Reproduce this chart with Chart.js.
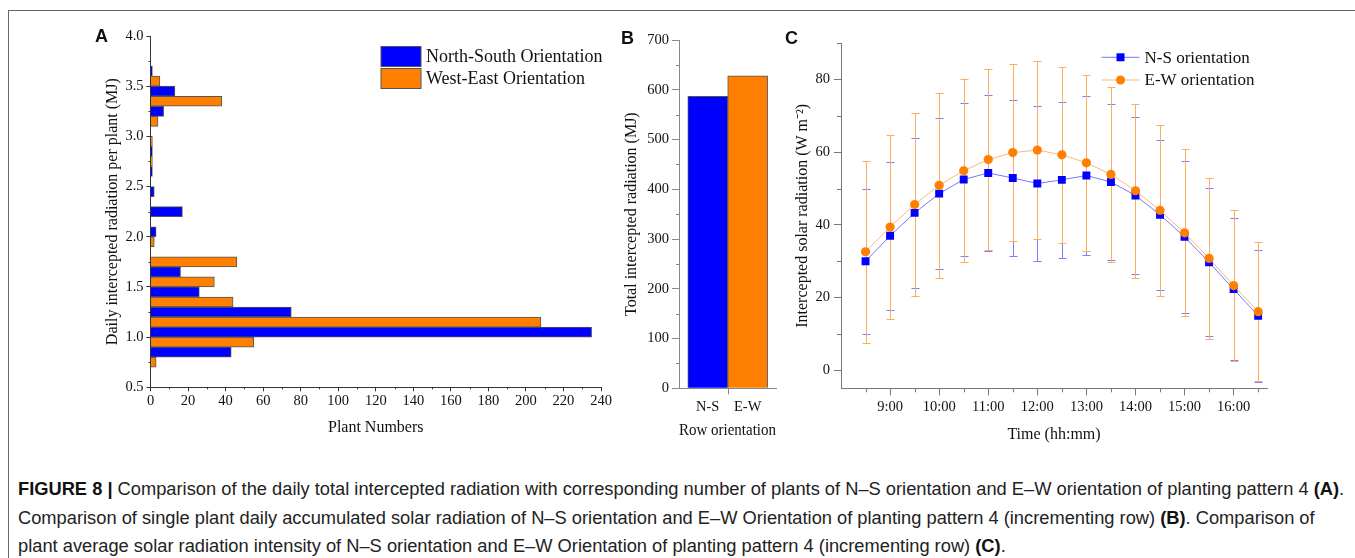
<!DOCTYPE html>
<html>
<head>
<meta charset="utf-8">
<title>Figure 8</title>
<script src="https://cdn.jsdelivr.net/npm/chart.js@4.4.0/dist/chart.umd.min.js"></script>
<style>
  body { margin: 0; background: #fff; width: 1355px; height: 558px; overflow: hidden; position: relative; }
  .frame { position: absolute; left: 8px; top: 10px; right: 0; height: 560px; border-top: 1px solid #666; border-left: 1px solid #666; }
  canvas { position: absolute; }
  .tag { position: absolute; font: bold 18px 'Liberation Sans', Arial, sans-serif; color: #111; line-height: 18px; }
  .caption { position: absolute; left: 18px; top: 475px; font: 18.3px 'Liberation Sans', Arial, sans-serif; line-height: 28.5px; color: #222; white-space: nowrap; }
  .caption b { color: #111; }
</style>
</head>
<body>
<div class="frame"></div>
<canvas id="chartA" width="560" height="430" style="left:60px;top:20px"></canvas>
<canvas id="chartB" width="200" height="430" style="left:600px;top:20px"></canvas>
<canvas id="chartC" width="560" height="430" style="left:780px;top:20px"></canvas>
<div class="tag" style="left:95px;top:27px">A</div>
<div class="tag" style="left:621px;top:29px">B</div>
<div class="tag" style="left:785px;top:29px">C</div>
<div class="caption">
<b>FIGURE 8 |</b> Comparison of the daily total intercepted radiation with corresponding number of plants of N–S orientation and E–W orientation of planting pattern 4 <b>(A)</b>.<br>
Comparison of single plant daily accumulated solar radiation of N–S orientation and E–W Orientation of planting pattern 4 (incrementing row) <b>(B)</b>. Comparison of<br>
plant average solar radiation intensity of N–S orientation and E–W Orientation of planting pattern 4 (incrementing row) <b>(C)</b>.
</div>
<script>
// --- A: number of plants per daily radiation class (MJ), two row orientations
const nsBins = [0.85, 1.05, 1.25, 1.45, 1.65, 1.85, 2.05, 2.25, 2.45, 2.65, 2.85, 3.05, 3.25, 3.45, 3.65];
const nsCounts = [43, 235, 75, 26, 16, 0, 3, 17, 2, 1, 1, 0, 7, 13, 1];
const ewBins = [0.75, 0.95, 1.15, 1.35, 1.55, 1.75, 1.95, 2.15, 2.35, 2.55, 2.75, 2.95, 3.15, 3.35, 3.55];
const ewCounts = [3, 55, 208, 44, 34, 46, 2, 0, 0, 0, 1, 1, 4, 38, 5];

// --- B: total intercepted radiation per row orientation
const rowOrient = ['N-S', 'E-W'];
const totalRad = [587, 628];

// --- C: hourly intercepted radiation, mean and SD
const cTimes = [8.5, 9, 9.5, 10, 10.5, 11, 11.5, 12, 12.5, 13, 13.5, 14, 14.5, 15, 15.5, 16, 16.5];
const nsMean = [30.0, 37.0, 43.3, 48.6, 52.5, 54.3, 52.9, 51.4, 52.4, 53.6, 51.8, 48.1, 42.8, 36.7, 29.7, 22.3, 15.0];
const nsSd = [20.0, 20.4, 20.6, 20.7, 21.0, 21.5, 21.4, 21.3, 21.5, 22.0, 21.5, 21.5, 20.6, 21.0, 20.4, 19.6, 18.2];
const ewMean = [32.6, 39.4, 45.6, 50.9, 54.9, 58.0, 59.9, 60.6, 59.3, 57.1, 53.9, 49.4, 44.0, 37.8, 30.8, 23.3, 16.1];
const ewSd = [25.1, 25.3, 25.2, 25.5, 25.2, 24.9, 24.4, 24.4, 24.2, 24.2, 24.2, 23.9, 23.5, 23.0, 22.1, 20.8, 19.1];
const cHourTicks = [9, 10, 11, 12, 13, 14, 15, 16];
const cYTicks = [0, 20, 40, 60, 80];

const SERIF = "'Liberation Serif', 'Times New Roman', serif";
const BLUE = '#0000ff';
const ORANGE = '#ff8000';
const TEXT = '#111';

// шкала с делениями наружу, без сетки
function axis(color, tickLen, pad) {
    return {
        offset: false,
        border: { display: true, color: color, width: 1 },
        grid: { drawOnChartArea: false, drawTicks: true, tickLength: tickLen, tickColor: color, offset: false },
        ticks: { color: TEXT, padding: pad, font: { family: SERIF, size: 14.5 } }
    };
}

function axisTitle(text, pad) {
    return { display: true, text: text, color: TEXT, font: { family: SERIF, size: 16 }, padding: pad };
}

// короткие промежуточные деления
function minorTicks(spec) {
    return {
        id: 'minorTicks',
        afterDraw(chart) {
            const ctx = chart.ctx;
            Object.keys(spec).forEach(id => {
                const s = chart.scales[id], o = spec[id];
                const last = o.to !== undefined ? o.to : s.max;
                ctx.save();
                ctx.strokeStyle = o.color;
                ctx.lineWidth = 1;
                ctx.beginPath();
                for (let v = o.from; v <= last + 1e-9; v += o.step) {
                    const p = Math.round(s.getPixelForValue(v)) + 0.5;
                    if (s.isHorizontal()) {
                        ctx.moveTo(p, s.top);
                        ctx.lineTo(p, s.top + o.length);
                    } else {
                        ctx.moveTo(s.right, p);
                        ctx.lineTo(s.right - o.length, p);
                    }
                }
                ctx.stroke();
                ctx.restore();
            });
        }
    };
}

// легенда A: прямоугольники с подписями внутри области графика
const legendBoxes = {
    id: 'legendBoxes',
    afterDraw(chart) {
        const ctx = chart.ctx;
        const x0 = chart.chartArea.left + 230.5;
        ctx.save();
        ctx.font = '18px ' + SERIF;
        ctx.textBaseline = 'middle';
        chart.data.datasets.forEach((ds, i) => {
            const y0 = chart.chartArea.top + 10.5 + i * 22;
            ctx.fillStyle = ds.backgroundColor;
            ctx.fillRect(x0, y0, 40, 20);
            ctx.strokeStyle = '#555';
            ctx.strokeRect(x0, y0, 40, 20);
            ctx.fillStyle = TEXT;
            ctx.fillText(ds.label, x0 + 45, y0 + 11);
        });
        ctx.restore();
    }
};

// планки погрешностей (±SD) под маркерами
const errorBars = {
    id: 'errorBars',
    beforeDatasetsDraw(chart) {
        const ctx = chart.ctx;
        const { x, y } = chart.scales;
        chart.data.datasets.forEach(ds => {
            ctx.save();
            ctx.strokeStyle = ds.errorColor;
            ctx.lineWidth = 1;
            ctx.beginPath();
            ds.data.forEach((pt, i) => {
                const px = Math.round(x.getPixelForValue(pt.x)) + 0.5;
                const top = Math.round(y.getPixelForValue(pt.y + ds.errors[i])) + 0.5;
                const bot = Math.round(y.getPixelForValue(pt.y - ds.errors[i])) + 0.5;
                ctx.moveTo(px, top); ctx.lineTo(px, bot);
                ctx.moveTo(px - 4, top); ctx.lineTo(px + 4, top);
                ctx.moveTo(px - 4, bot); ctx.lineTo(px + 4, bot);
            });
            ctx.stroke();
            ctx.restore();
        });
    }
};

// легенда C: линия с маркером
const legendLines = {
    id: 'legendLines',
    afterDraw(chart) {
        const ctx = chart.ctx;
        const x0 = chart.chartArea.left + 260.5;
        ctx.save();
        ctx.font = '17px ' + SERIF;
        ctx.textBaseline = 'middle';
        chart.data.datasets.forEach((ds, i) => {
            const y0 = chart.chartArea.top + 14 + i * 22.7;
            ctx.strokeStyle = ds.borderColor;
            ctx.lineWidth = 1;
            ctx.beginPath();
            ctx.moveTo(x0, y0); ctx.lineTo(x0 + 38, y0);
            ctx.stroke();
            ctx.fillStyle = ds.pointBackgroundColor;
            ctx.beginPath();
            if (ds.pointStyle === 'rect') ctx.rect(x0 + 15, y0 - 4, 8, 8);
            else ctx.arc(x0 + 19, y0, 4.5, 0, Math.PI * 2);
            ctx.fill();
            ctx.fillStyle = TEXT;
            ctx.fillText(ds.label, x0 + 43, y0 + 1);
        });
        ctx.restore();
    }
};

const noLegend = { legend: { display: false }, tooltip: { enabled: false } };

// A
const axAx = axis('#333', 4, 1);
const axAy = axis('#333', 4, 3);
new Chart(document.getElementById('chartA'), {
    type: 'bar',
    data: {
        datasets: [
            { label: 'North-South Orientation', data: nsBins.map((b, i) => ({ x: nsCounts[i], y: b })),
              backgroundColor: BLUE, borderColor: '#555', borderWidth: 1,
              grouped: false, barPercentage: 1, categoryPercentage: 1 },
            { label: 'West-East Orientation', data: ewBins.map((b, i) => ({ x: ewCounts[i], y: b })),
              backgroundColor: ORANGE, borderColor: '#555', borderWidth: 1,
              grouped: false, barPercentage: 1, categoryPercentage: 1 }
        ]
    },
    options: {
        indexAxis: 'y', responsive: false, animation: false,
        layout: { padding: { left: 0, top: 16, right: 19, bottom: 0 } },
        scales: {
            x: Object.assign(axAx, { type: 'linear', position: 'bottom', min: 0, max: 240,
                ticks: Object.assign(axAx.ticks, { stepSize: 20 }),
                title: axisTitle('Plant Numbers', { top: 0, bottom: 12.4 }),
                afterFit: s => { s.height = 62.7; } }),
            y: Object.assign(axAy, { type: 'linear', position: 'left', min: 0.5, max: 4.0,
                ticks: Object.assign(axAy.ticks, { stepSize: 0.5, callback: v => v.toFixed(1) }),
                title: axisTitle('Daily intercepted radiation per plant (MJ)', { top: 43.4, bottom: 0 }),
                afterFit: s => { s.width = 90.5; } })
        },
        plugins: noLegend
    },
    plugins: [legendBoxes, minorTicks({
        x: { from: 10, step: 20, length: 2, color: '#333' },
        y: { from: 0.75, step: 0.5, length: 2, color: '#333' }
    })]
});

// B: бары вплотную, подписи под барами, деление между ними
const axBx = axis('#888', 6, 4);
const axBy = axis('#888', 7, 3);
new Chart(document.getElementById('chartB'), {
    type: 'bar',
    data: {
        datasets: [{
            data: rowOrient.map((r, i) => ({ x: i, y: totalRad[i] })),
            backgroundColor: [BLUE, ORANGE], borderColor: '#555', borderWidth: 1,
            barPercentage: 1, categoryPercentage: 1, borderSkipped: 'start'
        }]
    },
    options: {
        responsive: false, animation: false,
        layout: { padding: { left: 0, top: 20, right: 24, bottom: 0 } },
        scales: {
            x: Object.assign(axBx, { type: 'linear', position: 'bottom', min: -0.72, max: 1.71,
                afterBuildTicks: s => { s.ticks = rowOrient.map((r, i) => ({ value: i })); },
                ticks: Object.assign(axBx.ticks, { callback: v => rowOrient[v] || '' }),
                grid: Object.assign(axBx.grid, { tickColor: 'rgba(0,0,0,0)' }),
                title: axisTitle('Row orientation', { top: 0, bottom: 9.4 }),
                afterFit: s => { s.height = 61.7; } }),
            y: Object.assign(axBy, { type: 'linear', position: 'left', min: 0, max: 700,
                ticks: Object.assign(axBy.ticks, { stepSize: 100 }),
                title: axisTitle('Total intercepted radiation (MJ)', { top: 22.4, bottom: 0 }),
                afterFit: s => { s.width = 79; } })
        },
        plugins: noLegend
    },
    plugins: [minorTicks({
        x: { from: 0.5, step: 1, to: 0.5, length: 6, color: '#888' },
        y: { from: 50, step: 100, length: 3, color: '#888' }
    })]
});

// C
const axCx = axis('#777', 7, 2.7);
const axCy = axis('#777', 7, 4);
new Chart(document.getElementById('chartC'), {
    type: 'line',
    data: {
        datasets: [
            { label: 'N-S orientation', data: cTimes.map((t, i) => ({ x: t, y: nsMean[i] })), errors: nsSd,
              errorColor: '#7d7dff', borderColor: '#7676ff', borderWidth: 1, tension: 0,
              pointStyle: 'rect', pointRadius: 5.6, pointBackgroundColor: BLUE, pointBorderColor: BLUE,
              pointBorderWidth: 0, order: 1 },
            { label: 'E-W orientation', data: cTimes.map((t, i) => ({ x: t, y: ewMean[i] })), errors: ewSd,
              errorColor: '#ffac5c', borderColor: '#ffb676', borderWidth: 1, tension: 0,
              pointStyle: 'circle', pointRadius: 4.6, pointBackgroundColor: ORANGE, pointBorderColor: ORANGE,
              pointBorderWidth: 0, order: 0 }
        ]
    },
    options: {
        responsive: false, animation: false,
        layout: { padding: { left: 0, top: 23.3, right: 73, bottom: 0 } },
        scales: {
            x: Object.assign(axCx, { type: 'linear', position: 'bottom', min: 8, max: 16.68,
                afterBuildTicks: s => { s.ticks = cHourTicks.map(v => ({ value: v })); },
                ticks: Object.assign(axCx.ticks, { callback: v => v + ':00' }),
                title: axisTitle('Time (hh:mm)', { top: 0, bottom: 5.4 }),
                afterFit: s => { s.height = 61.7; } }),
            y: Object.assign(axCy, { type: 'linear', position: 'left', min: -5, max: 90,
                afterBuildTicks: s => { s.ticks = cYTicks.map(v => ({ value: v })); },
                title: axisTitle('Intercepted solar radiation (W m⁻²)', { top: 13.4, bottom: 0 }),
                afterFit: s => { s.width = 61; } })
        },
        plugins: noLegend
    },
    plugins: [errorBars, legendLines, minorTicks({
        x: { from: 8.5, step: 1, length: 4, color: '#777' },
        y: { from: 10, step: 20, length: 4, color: '#777' }
    })]
});
</script>
</body>
</html>
